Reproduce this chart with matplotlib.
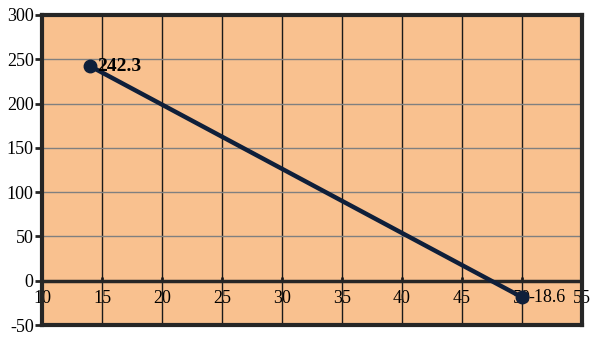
import numpy as np
import matplotlib.pyplot as plt
import matplotlib
matplotlib.rcParams.update({'font.family': 'Liberation Serif', 'font.size': 13,
                            'axes.unicode_minus': False})

x_vals = [14, 50]
y_vals = [242.3, -18.6]
point_labels = ['242.3', '-18.6']
x_ticks = [10, 15, 20, 25, 30, 35, 40, 45, 50, 55]
y_ticks = [-50, 0, 50, 100, 150, 200, 250, 300]

fig = plt.figure(figsize=(6.05, 3.4), dpi=100)
ax = fig.add_axes([0.0694, 0.044, 0.8926, 0.912])
ax.set_facecolor('#F9C18F')
ax.set_xlim(10, 55)
ax.set_ylim(-50, 300)

# grid: vertical dark, horizontal gray
for xt in x_ticks[1:-1]:
    ax.axvline(xt, color='#1a1a1a', lw=1, zorder=1)
for yt in y_ticks[1:-1]:
    ax.axhline(yt, color='#808080', lw=1, zorder=1)
ax.axhline(0, color='#262626', lw=2.5, zorder=2)

ax.plot(x_vals, y_vals, color='#0F1F3A', lw=3.2, marker='o', ms=9, zorder=3)
ax.text(x_vals[0] + 0.6, y_vals[0], point_labels[0], fontsize=14, fontweight='bold',
        va='center', ha='left', zorder=4)
ax.text(x_vals[1] + 0.5, y_vals[1], point_labels[1], fontsize=13,
        va='center', ha='left', zorder=4)

ax.set_yticks(y_ticks)
ax.set_xticks(x_ticks)
ax.tick_params(axis='x', bottom=False, labelbottom=False)
ax.tick_params(axis='y', length=5, width=2, color='#262626', pad=1)

sec = ax.secondary_xaxis(50 / 350)
sec.set_xticks(x_ticks)
sec.spines['bottom'].set_visible(False)
sec.tick_params(axis='x', length=3, width=2, color='#262626', direction='in', pad=7)

for s in ax.spines.values():
    s.set_linewidth(3)
    s.set_color('#262626')

plt.savefig('out.png', dpi=100)
